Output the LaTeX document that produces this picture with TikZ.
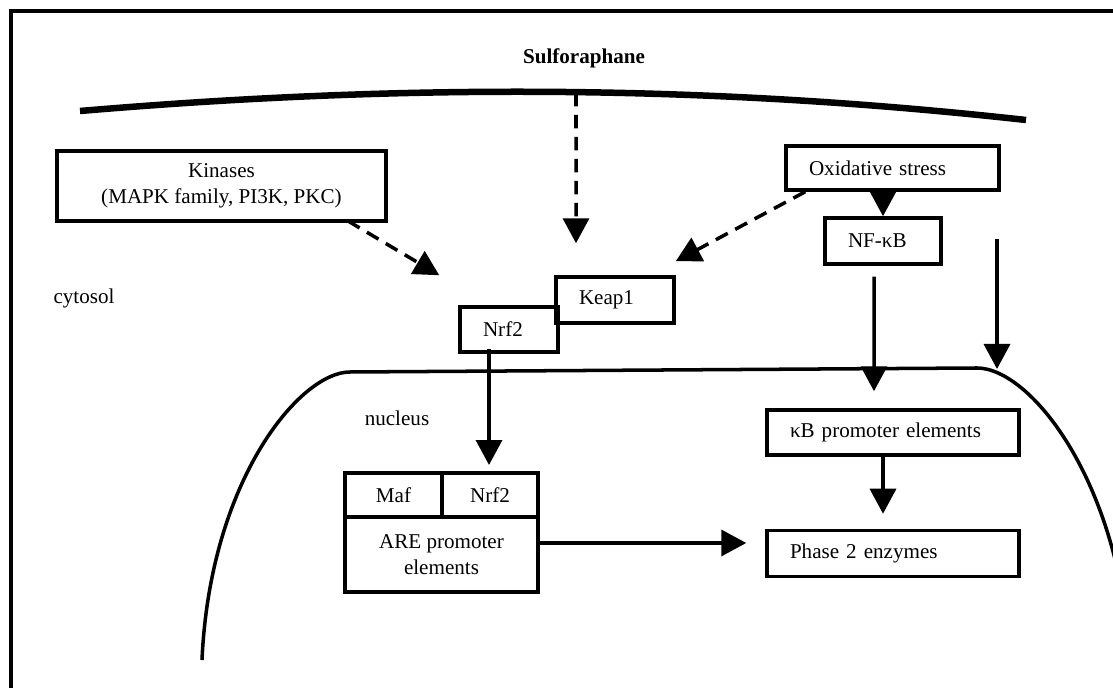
\documentclass[tikz,border=0pt]{standalone}
\usepackage{fontspec}
\setmainfont{Liberation Serif}
\usetikzlibrary{arrows.meta, positioning}

\begin{document}
\begin{tikzpicture}[x=0.02cm, y=-0.02cm,
  box/.style={draw, line width=2pt, inner xsep=0.46cm, inner ysep=0pt, align=left, font=\fontsize{12}{14}\selectfont},
  cell/.style={draw, line width=2pt, inner sep=0pt, outer sep=0pt, align=center, font=\fontsize{12}{14.5}\selectfont},
  lbl/.style={font=\fontsize{12}{14}\selectfont},
  arr/.style={-{Triangle[length=0.5cm, width=0.52cm]}, line width=2pt},
  darr/.style={arr, dash pattern=on 0.27cm off 0.17cm}
]
\clip (0,0) rectangle (1113,688);
% frame, cell membrane, nucleus
\draw[line width=2pt] (11,720) -- (11,11) -- (1140,11);
\draw[line width=3.7pt] (80,111) .. controls (400,84) and (700,84) .. (1026,120);
\draw[line width=2pt] (202,660) .. controls (210,480) and (300,372) .. (350,372) -- (977,368) .. controls (1030,368) and (1120,480) .. (1130,660);

\node[lbl, font=\fontsize{12}{14}\selectfont\bfseries] (sulf) at (584,58) {Sulforaphane};
\node[lbl] (cyto) at (84,298) {cytosol};
\node[lbl] (nuc) at (397,418) {nucleus};

\node[cell, minimum width=6.58cm, minimum height=1.4cm, font=\fontsize{12}{15}\selectfont] (kin) at (221.5,186) {Kinases\\(MAPK family, PI3K, PKC)};
\node[box, text width=3.34cm, minimum height=0.88cm] (oxi) at (892.5,168) {Oxidative stress};
\node[box, text width=1.40cm, minimum height=0.92cm] (nfkb) at (883,241) {NF-κB};
\node[box, text width=1.44cm, minimum height=0.92cm] (keap) at (615,300) {Keap1};
\node[box, text width=1.04cm, minimum height=0.9cm] (nrf) at (509,329.5) {Nrf2};
\node[cell, minimum width=1.94cm, minimum height=0.88cm] (maf) at (393.5,495) {Maf};
\node[cell, minimum width=1.92cm, minimum height=0.88cm, right=0pt of maf] (nrfn) {Nrf2};
\node[cell, minimum width=3.86cm, minimum height=1.5cm, anchor=north west] (are) at (maf.south west) {ARE promoter\\elements};
\node[box, text width=4.12cm, minimum height=0.9cm] (kbp) at (893,432.5) {κB promoter elements};
\node[box, text width=4.12cm, minimum height=0.92cm, below=1.44cm of kbp] (ph2) {Phase 2 enzymes};

\coordinate (sfn) at (576,93);
\coordinate (rtop) at (997,239);
\coordinate (rtip) at (997,369);

\draw[darr] (sfn) -- ([xshift=-0.78cm, yshift=0.64cm]keap.north);
\draw[darr] ([xshift=-0.76cm]kin.south east) -- ([xshift=-0.38cm, yshift=0.6cm]nrf.north west);
\draw[darr] ([xshift=0.42cm]oxi.south west) -- ([yshift=0.28cm]keap.north east);
\draw[arr] (oxi.south -| nfkb.north) -- (nfkb.north);
\draw[arr] ([xshift=-0.18cm, yshift=-0.22cm]nfkb.south) -- ([xshift=-0.38cm, yshift=0.34cm]kbp.north);
\draw[arr] (rtop) -- (rtip);
\draw[arr, shorten >=0.16cm] ([xshift=-0.4cm, yshift=0.1cm]nrf.south) -- ([xshift=-0.4cm]nrf.south |- nrfn.north);
\draw[arr] ([yshift=0.23cm]are.east) -- ([xshift=-0.38cm, yshift=0.23cm]are.east -| ph2.west);
\draw[arr] ([xshift=-0.2cm]kbp.south) -- ([xshift=-0.2cm, yshift=0.3cm]ph2.north);
\end{tikzpicture}
\end{document}
